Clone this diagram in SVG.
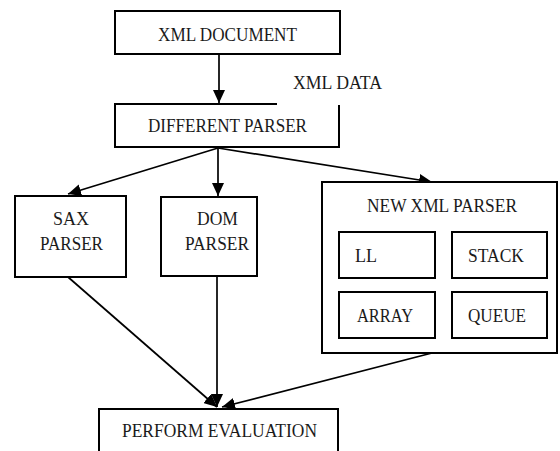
<svg xmlns="http://www.w3.org/2000/svg" width="560" height="451" viewBox="0 0 560 451">
<style>
.box{fill:#fff;stroke:#000;stroke-width:2}
.in{fill:none;stroke:#000;stroke-width:2}
.t{font-family:"Liberation Serif","Times New Roman",serif;font-size:19px;fill:#1a1a1a}
.c{text-anchor:middle}
.e{fill:none;stroke:#000;stroke-width:1.7}
</style>
<defs>
<marker id="ah" markerUnits="userSpaceOnUse" markerWidth="14" markerHeight="12" refX="13" refY="6" orient="auto">
<path d="M0,0 L13,6 L0,12 z" fill="#000"/>
</marker>
</defs>
<rect width="560" height="451" fill="#fff"/>
<g id="connectors">
<line class="e" x1="219" y1="54" x2="219" y2="103" marker-end="url(#ah)"/>
<line class="e" x1="218" y1="148" x2="68" y2="194" marker-end="url(#ah)"/>
<line class="e" x1="218" y1="148" x2="218" y2="196" marker-end="url(#ah)"/>
<line class="e" x1="218" y1="148" x2="432" y2="182" marker-end="url(#ah)"/>
<line class="e" x1="68" y1="277" x2="217" y2="407" marker-end="url(#ah)"/>
<line class="e" x1="217" y1="276" x2="217" y2="407" marker-end="url(#ah)"/>
<line class="e" x1="432" y1="353" x2="222" y2="407" marker-end="url(#ah)"/>
</g>
<g id="xml-document">
<rect class="box" x="115" y="11" width="225" height="43"/>
<text class="t" x="158" y="41" textLength="139" lengthAdjust="spacingAndGlyphs">XML DOCUMENT</text>
</g>
<g id="xml-data">
<text class="t" x="293" y="89" textLength="89" lengthAdjust="spacingAndGlyphs">XML DATA</text>
</g>
<g id="different-parser">
<path class="in" d="M277,104 H115 V147 H339 V105"/>
<text class="t" x="148" y="132" textLength="159" lengthAdjust="spacingAndGlyphs">DIFFERENT PARSER</text>
</g>
<g id="sax-parser">
<rect class="box" x="15" y="196" width="111" height="81"/>
<text class="t" x="53" y="225" textLength="36" lengthAdjust="spacingAndGlyphs">SAX</text>
<text class="t" x="40" y="250" textLength="63" lengthAdjust="spacingAndGlyphs">PARSER</text>
</g>
<g id="dom-parser">
<rect class="box" x="161" y="197" width="96" height="79"/>
<text class="t" x="197" y="225" textLength="41" lengthAdjust="spacingAndGlyphs">DOM</text>
<text class="t" x="185" y="250" textLength="64" lengthAdjust="spacingAndGlyphs">PARSER</text>
</g>
<g id="new-xml-parser">
<rect class="box" x="322" y="182" width="235" height="171"/>
<text class="t" x="367" y="212" textLength="150" lengthAdjust="spacingAndGlyphs">NEW XML PARSER</text>
</g>
<g id="ll">
<rect class="box" x="339" y="232" width="96" height="46"/>
<text class="t" x="355" y="262" textLength="22" lengthAdjust="spacingAndGlyphs">LL</text>
</g>
<g id="stack">
<rect class="box" x="452" y="232" width="95" height="46"/>
<text class="t" x="468" y="262" textLength="56" lengthAdjust="spacingAndGlyphs">STACK</text>
</g>
<g id="array">
<rect class="box" x="339" y="292" width="96" height="46"/>
<text class="t" x="357" y="322" textLength="56" lengthAdjust="spacingAndGlyphs">ARRAY</text>
</g>
<g id="queue">
<rect class="box" x="452" y="292" width="95" height="46"/>
<text class="t" x="468" y="322" textLength="58" lengthAdjust="spacingAndGlyphs">QUEUE</text>
</g>
<g id="perform-evaluation">
<rect class="box" x="99" y="409" width="239" height="60"/>
<text class="t" x="122" y="437" textLength="195" lengthAdjust="spacingAndGlyphs">PERFORM EVALUATION</text>
</g>
</svg>
